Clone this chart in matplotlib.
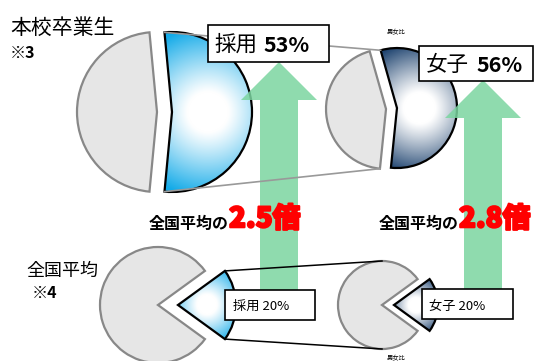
import numpy as np
import matplotlib
matplotlib.use('Agg')
import matplotlib.pyplot as plt
import matplotlib.colors as mcolors
import matplotlib.patheffects as pe
from matplotlib.patches import Rectangle, FancyArrow

plt.rcParams['font.family'] = ['Noto Sans CJK JP', 'DejaVu Sans']

W, H = 534, 361

# data
items = ['採用', '女子']
school = [53, 56]          # 本校卒業生 (%)
national = [20, 20]        # 全国平均 (%)
times = ['2.5', '2.8']     # 全国平均の○倍

light_blue = '#12aae8'
dark_blue = '#1f4470'
gray_face = '#e6e6e6'
gray_edge = '#888888'
green = '#7bd5a0'


def Y(y):
    # picture rows run downwards
    return H - y


fig = plt.figure(figsize=(W / 100, H / 100), dpi=100)
ax = fig.add_axes([0, 0, 1, 1])


def gradient_fill(wedge, color, z):
    bb = wedge.get_path().get_extents()
    cx, cy = (bb.x0 + bb.x1) / 2, (bb.y0 + bb.y1) / 2
    diag = np.hypot(bb.width, bb.height) / 2
    gx, gy = np.meshgrid(np.linspace(bb.x0, bb.x1, 300), np.linspace(bb.y0, bb.y1, 300))
    d = np.hypot(gx - cx, gy - cy) / diag
    t = np.clip((d - 0.22) / 0.72, 0, 1) ** 1.1
    rgb = np.array(mcolors.to_rgb(color))
    img = 1 - t[..., None] * (1 - rgb)
    im = ax.imshow(img, extent=(bb.x0, bb.x1, bb.y0, bb.y1), origin='lower',
                   zorder=z, interpolation='bilinear')
    im.set_clip_path(wedge)


def draw_pie(share, cx, cy, r, gaps, rot, color):
    wedges, _ = ax.pie([share, 100 - share], center=(cx, Y(cy)), radius=r,
                       explode=gaps, startangle=rot - share * 1.8,
                       colors=['none', gray_face])
    wedges[0].set(facecolor='none', edgecolor='black', linewidth=1.6, zorder=3)
    wedges[1].set(edgecolor=gray_edge, linewidth=1.6, zorder=2)
    gradient_fill(wedges[0], color, 2.5)
    return wedges


def corner(w, which):
    a = np.deg2rad(w.theta2 if which else w.theta1)
    return w.center[0] + w.r * np.cos(a), w.center[1] + w.r * np.sin(a)


p1 = draw_pie(school[0], 164.5, 112, 80, [7.5, 7.5], 0, light_blue)
p2 = draw_pie(school[1], 391.5, 108.5, 60, [5.5, 5.5], 5, dark_blue)
p3 = draw_pie(national[0], 158, 305, 58, [20, 0], 0, light_blue)
p4 = draw_pie(national[1], 382, 305, 44, [12, 0], 0, dark_blue)

# connectors
a, b = corner(p1[0], 1), corner(p2[0], 1)
ax.plot([a[0], b[0]], [a[1], b[1]], color='#999999', lw=1.2, zorder=5)
a, b = corner(p1[0], 0), corner(p2[1], 1)
ax.plot([a[0], b[0]], [a[1], b[1]], color='#999999', lw=1.2, zorder=5)
g = p4[1]
a = corner(p3[0], 1)
ax.plot([a[0], g.center[0]], [a[1], g.center[1] + g.r], color='black', lw=1.1, zorder=5)
a = corner(p3[0], 0)
ax.plot([a[0], g.center[0]], [a[1], g.center[1] - g.r], color='black', lw=1.1, zorder=5)

# green arrows
for x0, tip in [(279, 62), (483, 80)]:
    ax.add_patch(FancyArrow(x0, Y(292), 0, 292 - tip, width=38, head_width=76,
                            head_length=38, length_includes_head=True,
                            color=green, alpha=0.85, lw=0, zorder=4))

# label boxes
boxes = [(208, 25, 121, 37), (419, 46, 114, 35), (225, 290, 90, 30), (422, 289, 91, 30)]
for bx, by, bw, bh in boxes:
    ax.add_patch(Rectangle((bx, Y(by + bh)), bw, bh, facecolor='white',
                           edgecolor='black', lw=1.2, zorder=6))

ax.text(214, Y(45), items[0], fontsize=15.5, va='center', ha='left', zorder=7)
ax.text(263, Y(45), f'{school[0]}%', fontsize=15.5, fontweight='bold',
        va='center', ha='left', zorder=7)
ax.text(426, Y(65), items[1], fontsize=15.5, va='center', ha='left', zorder=7)
ax.text(476, Y(65), f'{school[1]}%', fontsize=15.5, fontweight='bold',
        va='center', ha='left', zorder=7)
ax.text(233, Y(306), f'{items[0]} {national[0]}%', fontsize=9.5, va='center',
        ha='left', zorder=7)
ax.text(429, Y(306), f'{items[1]} {national[1]}%', fontsize=9.5, va='center',
        ha='left', zorder=7)

# ratio texts
for xr, t in zip([229, 459], times):
    ax.text(xr, Y(224), '全国平均の', fontsize=11.5, fontweight='bold',
            va='center', ha='right', zorder=7)
    ax.text(xr, Y(219), f'{t}倍', fontsize=20, fontweight='heavy', color='red',
            va='center', ha='left', zorder=7,
            path_effects=[pe.withStroke(linewidth=1.5, foreground='red')])

# headings
ax.text(10, Y(28), '本校卒業生', fontsize=15, va='center', ha='left')
ax.text(10, Y(53), '※3', fontsize=11.5, fontweight='bold', va='center', ha='left')
ax.text(26, Y(271), '全国平均', fontsize=13, va='center', ha='left')
ax.text(32, Y(293), '※4', fontsize=11.5, fontweight='bold', va='center', ha='left')
ax.text(396, Y(32), '男女比', fontsize=4.5, va='center', ha='center')
ax.text(396, Y(358), '男女比', fontsize=4.5, va='center', ha='center')

ax.set_xlim(0, W)
ax.set_ylim(0, H)
ax.set_aspect('auto')
ax.axis('off')
fig.savefig('out.png', dpi=100)
